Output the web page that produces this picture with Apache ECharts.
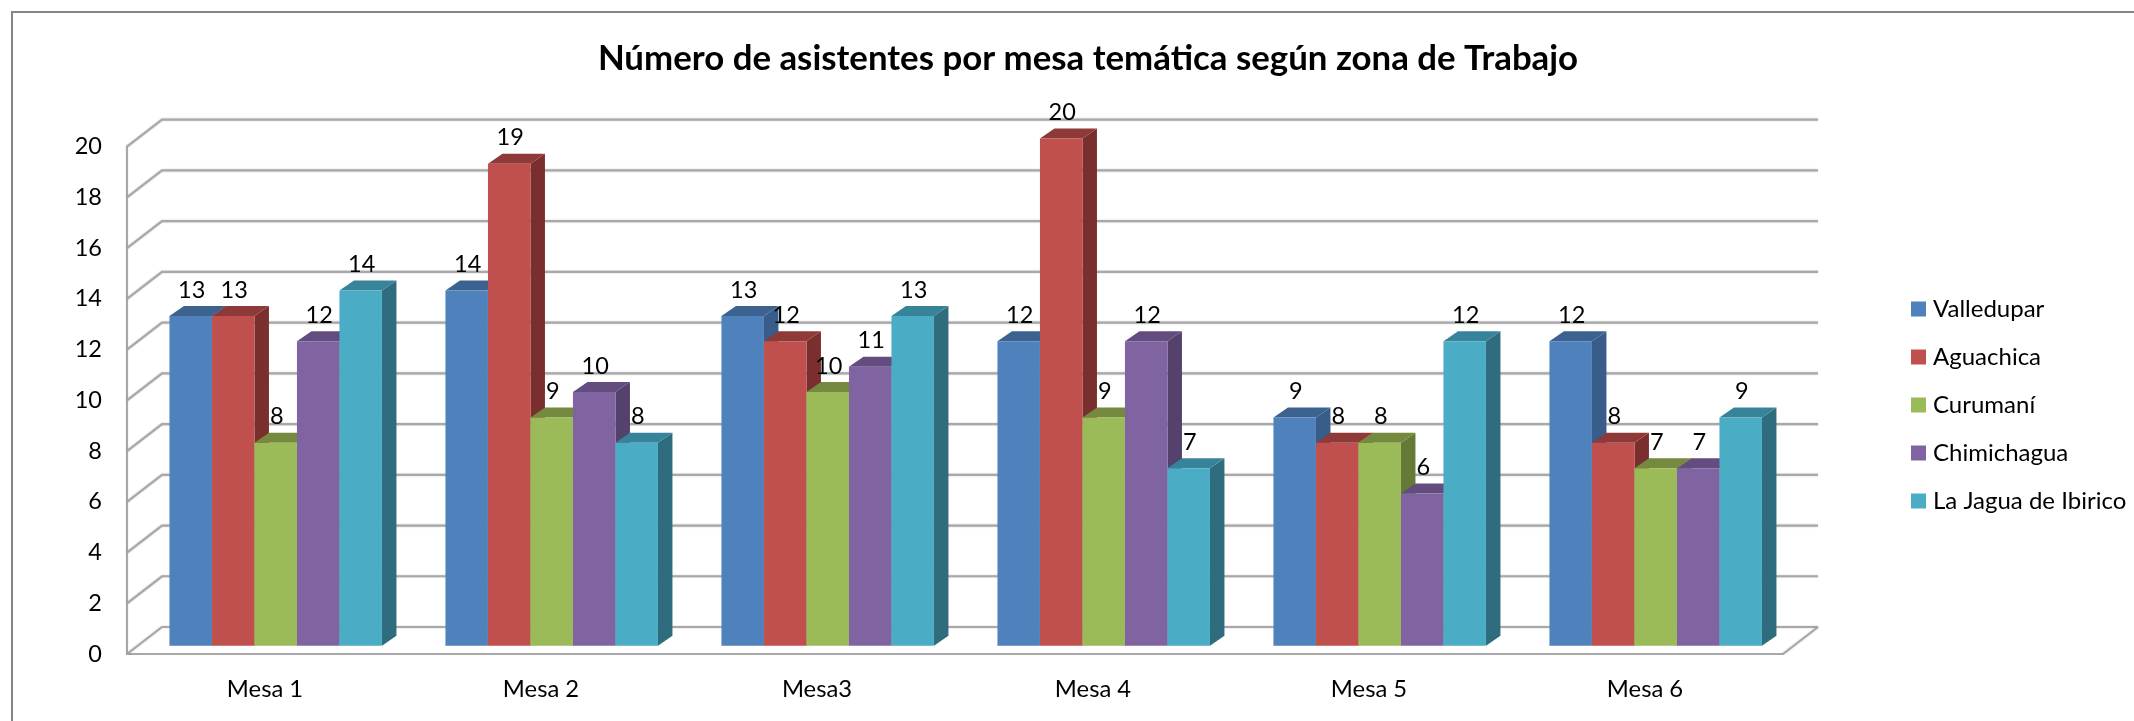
<!DOCTYPE html>
<html>
<head>
<meta charset="utf-8">
<title>Asistentes por mesa</title>
<script src="https://cdn.jsdelivr.net/npm/echarts@6/dist/echarts.min.js"></script>
<style>
  html, body { margin: 0; padding: 0; background: #fff; }
  #chart { width: 2134px; height: 721px; }
</style>
</head>
<body>
<div id="chart"></div>
<script>
"use strict";

var mesas = ["Mesa 1", "Mesa 2", "Mesa3", "Mesa 4", "Mesa 5", "Mesa 6"];
var valledupar = [13, 14, 13, 12, 9, 12];
var aguachica = [13, 19, 12, 20, 8, 8];
var curumani = [8, 9, 10, 9, 8, 7];
var chimichagua = [12, 10, 11, 12, 6, 7];
var laJagua = [14, 8, 13, 7, 12, 9];
var ticks = [0, 2, 4, 6, 8, 10, 12, 14, 16, 18, 20];

var FONT = "Lato";
var GRID_COLOR = "#a8a8a8";
// profundidad del "muro" y de las barras, en px
var WALL_DX = 35, WALL_DY = 27;
var BAR_SHIFT_X = 10.7, BAR_SHIFT_Y = 8.3;
var BAR_DX = 14.5, BAR_DY = 10;

function gridLine(points) {
  return {
    type: "polyline",
    shape: { points: points },
    style: { fill: null, stroke: GRID_COLOR, lineWidth: 2.2, shadowBlur: 2, shadowColor: "rgba(0,0,0,0.2)" }
  };
}

// lineas del fondo y del lateral, una por cada tick
function renderWall(params, api) {
  var c = params.coordSys;
  var p = api.coord([0, api.value(0)]);
  var y = p[1];
  var left = c.x, right = c.x + c.width;
  var children = [gridLine([[left, y], [left + WALL_DX, y - WALL_DY], [right + WALL_DX, y - WALL_DY]])];
  if (api.value(0) === 0) {
    children.push(gridLine([[right, y], [right + WALL_DX, y - WALL_DY]]));
  }
  return { type: "group", children: children };
}

function makeBars(name, values, index, front, top, side) {
  return {
    name: name,
    type: "custom",
    itemStyle: { color: front },
    z: 3,
    data: values.map(function (v, i) { return [i, v]; }),
    renderItem: function (params, api) {
      var w = 42.5;
      var c = api.coord([api.value(0), api.value(1)]);
      var b = api.coord([api.value(0), 0]);
      var x = c[0] + BAR_SHIFT_X - 2.5 * w + index * w;
      var yTop = c[1] - BAR_SHIFT_Y;
      var yBase = b[1] - BAR_SHIFT_Y;
      return {
        type: "group",
        children: [
          {
            type: "polygon",
            shape: { points: [[x + w, yTop], [x + w + BAR_DX, yTop - BAR_DY], [x + w + BAR_DX, yBase - BAR_DY], [x + w, yBase]] },
            style: { fill: side }
          },
          {
            type: "polygon",
            shape: { points: [[x, yTop], [x + BAR_DX, yTop - BAR_DY], [x + w + BAR_DX, yTop - BAR_DY], [x + w, yTop]] },
            style: { fill: top }
          },
          {
            type: "rect",
            shape: { x: x, y: yTop, width: w, height: yBase - yTop },
            style: { fill: front }
          },
          {
            type: "text",
            z2: 100,
            style: {
              text: String(api.value(1)),
              x: x + w / 2 + 1,
              y: yTop - 26,
              align: "center",
              verticalAlign: "middle",
              font: "23.5px " + FONT,
              fill: "#000"
            }
          }
        ]
      };
    }
  };
}

function initGraph() {
  var myChart = echarts.init(document.getElementById("chart"), null, { renderer: "canvas" });
  var options = {
    animation: false,
    backgroundColor: "#fff",
    title: {
      text: "Número de asistentes por mesa temática según zona de Trabajo",
      left: 1083,
      top: 36,
      textAlign: "center",
      textStyle: { fontFamily: FONT, fontWeight: "bold", fontSize: 34.8, color: "#000" }
    },
    legend: {
      orient: "vertical",
      left: 1911,
      top: 297,
      padding: 0,
      icon: "rect",
      itemWidth: 15,
      itemHeight: 15,
      itemGap: 24,
      textStyle: { fontFamily: FONT, fontSize: 24, color: "#000", lineHeight: 20, padding: [0, 0, 0, 2] }
    },
    graphic: [
      {
        type: "polyline",
        silent: true,
        shape: { points: [[12, 721], [12, 12], [2134, 12]] },
        style: { fill: null, stroke: "#868686", lineWidth: 2 }
      }
    ],
    grid: { left: 127, right: 351, top: 146.7, bottom: 67 },
    xAxis: {
      type: "category",
      data: mesas,
      axisLine: { show: true, lineStyle: { color: GRID_COLOR, width: 2.2 } },
      axisTick: { show: false },
      axisLabel: { fontFamily: FONT, fontSize: 23.8, color: "#000", margin: 23 }
    },
    yAxis: {
      type: "value",
      min: 0,
      max: 20,
      interval: 2,
      splitLine: { show: false },
      axisLine: { show: true, lineStyle: { color: GRID_COLOR, width: 2.2 } },
      axisTick: { show: false },
      axisLabel: { fontFamily: FONT, fontSize: 23.5, color: "#000", margin: 25, padding: [4, 0, 0, 0] }
    },
    series: [
      {
        type: "custom",
        silent: true,
        z: 1,
        data: ticks.map(function (t) { return [t]; }),
        encode: { y: 0 },
        renderItem: renderWall,
        tooltip: { show: false }
      },
      makeBars("Valledupar", valledupar, 0, "#4f81bd", "#3c6290", "#385d8a"),
      makeBars("Aguachica", aguachica, 1, "#c0504d", "#8e3a38", "#7a2f2e"),
      makeBars("Curumaní", curumani, 2, "#9bbb59", "#75893f", "#667a38"),
      makeBars("Chimichagua", chimichagua, 3, "#8064a2", "#634d7f", "#54416c"),
      makeBars("La Jagua de Ibirico", laJagua, 4, "#4bacc6", "#37849a", "#2f6c7e")
    ]
  };
  myChart.setOption(options);
  window.onresize = function () {
    myChart.resize();
  };
  return myChart;
}

initGraph();
</script>
</body>
</html>
